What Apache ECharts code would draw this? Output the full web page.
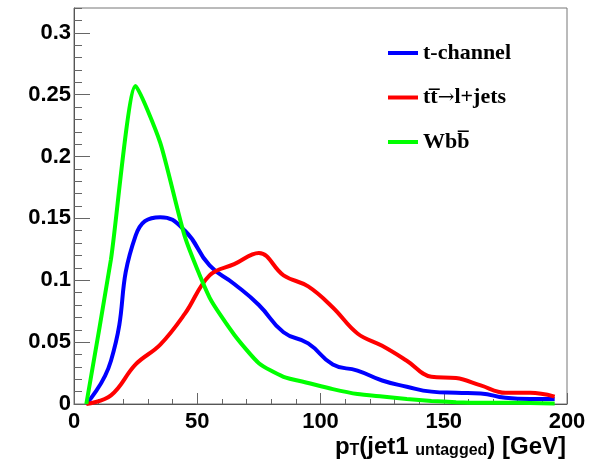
<!DOCTYPE html>
<html>
<head>
<meta charset="utf-8">
<script src="https://cdn.jsdelivr.net/npm/echarts@6/dist/echarts.min.js"></script>
<style>
  html, body { margin: 0; padding: 0; background: #fff; }
  #chart { width: 604px; height: 463px; }
</style>
</head>
<body>
<div id="chart"></div>
<script>
// bin centres in GeV (10 GeV bins), normalised distributions
const ptBins = [5, 15, 25, 35, 45, 55, 65, 75, 85, 95, 105, 115, 125, 135, 145, 155, 165, 175, 185, 195]
const tChannel = [0, 0.035, 0.136, 0.151, 0.140, 0.112, 0.097, 0.080, 0.058, 0.049, 0.032, 0.027, 0.019, 0.014, 0.010, 0.009, 0.0085, 0.005, 0.004, 0.004]
const ttbar = [0, 0.007, 0.032, 0.048, 0.073, 0.104, 0.113, 0.122, 0.104, 0.095, 0.078, 0.057, 0.047, 0.035, 0.022, 0.021, 0.015, 0.009, 0.009, 0.006]
const wbb = [0, 0.117, 0.257, 0.211, 0.135, 0.086, 0.056, 0.033, 0.022, 0.017, 0.012, 0.008, 0.006, 0.004, 0.0025, 0.0015, 0.001, 0.001, 0.0008, 0.0005]

const seriesNames = ['t-channel', 'tt\u0305\u2192l+jets', 'Wbb\u0305']
const seriesColors = ['#0000ff', '#ff0000', '#00ff00']
const seriesValues = [tChannel, ttbar, wbb]
const seriesSmooth = [0.5, 0.4, 0.2] // green rises almost straight

const xMin = 0
const xMax = 200
const xStep = 50
const yMin = 0
const yMax = 0.32
const yStep = 0.05
const yMinorStep = 0.01

const myChart = echarts.init(document.getElementById('chart'))

let series = []
for (let i = 0; i < seriesNames.length; i++) {
  series.push({
    name: seriesNames[i],
    type: 'line',
    smooth: seriesSmooth[i],
    symbol: 'none',
    yAxisIndex: 0,
    lineStyle: { width: 4, color: seriesColors[i] },
    itemStyle: { color: seriesColors[i] },
    data: ptBins.map((x, k) => [x, seriesValues[i][k]])
  })
}

const labelFont = {
  fontFamily: 'Liberation Sans',
  fontWeight: 'bold',
  fontSize: 22,
  color: '#000'
}

let option = {
  animation: false,
  backgroundColor: '#fff',
  grid: {
    left: 74,
    right: 37,
    top: 8,
    bottom: 59,
    show: true,
    borderColor: '#777',
    borderWidth: 1,
    containLabel: false,
    outerBoundsMode: 'none'
  },
  legend: {
    orient: 'vertical',
    left: 388,
    top: 42,
    padding: 0,
    icon: 'rect',
    itemWidth: 30,
    itemHeight: 4,
    itemGap: 22.5,
    data: seriesNames,
    formatter: function (name) {
      return name.replace('\u2192', '{a|\u2192}')
    },
    textStyle: {
      fontFamily: 'Liberation Serif',
      fontWeight: 'bold',
      fontSize: 22,
      lineHeight: 22,
      color: '#000',
      rich: {
        a: { fontFamily: 'DejaVu Serif', fontWeight: 'normal', fontSize: 20, lineHeight: 22, color: '#000' }
      }
    }
  },
  xAxis: {
    type: 'value',
    min: xMin,
    max: xMax,
    interval: xStep,
    axisLine: { show: true, lineStyle: { color: '#555', width: 1 } },
    axisTick: { show: true, inside: true, length: 11, lineStyle: { color: '#666' } },
    minorTick: { show: true, splitNumber: 5, length: 5, lineStyle: { color: '#666' } },
    splitLine: { show: false },
    axisLabel: Object.assign({ margin: 7 }, labelFont)
  },
  yAxis: [
    {
      type: 'value',
      min: yMin,
      max: yMax,
      interval: yStep,
      axisLine: { show: true, lineStyle: { color: '#555', width: 1 } },
      axisTick: { show: true, inside: true, length: 16, lineStyle: { color: '#666' } },
      splitLine: { show: false },
      axisLabel: Object.assign({ margin: 3, showMaxLabel: false }, labelFont)
    },
    {
      // minor ticks every 0.01
      type: 'value',
      min: yMin,
      max: yMax,
      interval: yMinorStep,
      position: 'left',
      axisLine: { show: false },
      axisTick: { show: true, inside: true, length: 8, lineStyle: { color: '#666' } },
      splitLine: { show: false },
      axisLabel: { show: false }
    }
  ],
  graphic: [
    {
      type: 'text',
      x: 566,
      y: 435,
      style: {
        text: '{b|p}{s|T}{b|(jet1 }{s|untagged}{b|) [GeV]}',
        align: 'right',
        verticalAlign: 'top',
        rich: {
          b: { fontFamily: 'Liberation Sans', fontWeight: 'bold', fontSize: 24, lineHeight: 24, verticalAlign: 'top', fill: '#000' },
          s: { fontFamily: 'Liberation Sans', fontWeight: 'bold', fontSize: 16, lineHeight: 16, padding: [11, 0, 0, 0], verticalAlign: 'bottom', fill: '#000' }
        }
      }
    }
  ],
  series: series
}

myChart.setOption(option)
</script>
</body>
</html>
